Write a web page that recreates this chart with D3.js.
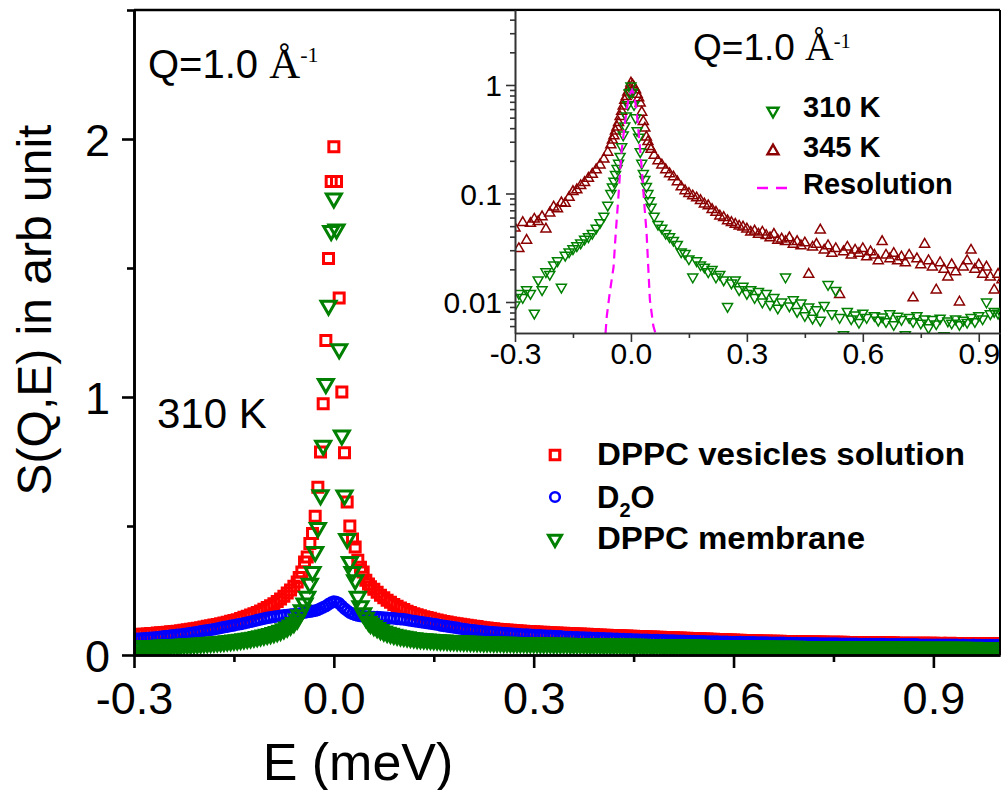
<!DOCTYPE html>
<html><head><meta charset="utf-8">
<script src="https://cdn.jsdelivr.net/npm/d3@7"></script>
<style>
body{margin:0;background:#fff}
svg{display:block}
text{font-family:"Liberation Sans",Arial,sans-serif;fill:#000}
</style>
</head><body>
<svg id="chart" width="1002" height="790"></svg>
<script>
// ---------------- DATA ----------------
// energy grid of the main panel (meV): 0.005 steps in the tails, 0.004 steps around the elastic peak
const energyMain = [
  ...d3.range(-300, -50, 5).map(i => i / 1000),
  ...d3.range(-13, 14).map(k => +(k * 0.004).toFixed(3)),
  ...d3.range(55, 1001, 5).map(i => i / 1000)
];
// energy grid of the inset (meV)
const energyInset = [
  ...d3.range(-30, -5).map(i => i / 100),
  ...d3.range(-13, 14).map(k => +(k * 0.004).toFixed(3)),
  ...d3.range(6, 101).map(i => i / 100)
];

// main panel, 310 K
const vesicles = [
  0.077,0.079,0.080,0.080,0.081,0.083,0.083,0.085,0.086,0.087,
  0.088,0.090,0.091,0.092,0.094,0.096,0.098,0.100,0.102,0.104,
  0.106,0.109,0.111,0.113,0.116,0.118,0.121,0.124,0.127,0.131,
  0.134,0.137,0.141,0.146,0.150,0.155,0.160,0.165,0.171,0.177,
  0.184,0.191,0.199,0.207,0.217,0.228,0.240,0.252,0.266,0.283,
  0.300,0.322,0.360,0.380,0.432,0.471,0.538,0.650,0.787,0.974,1.219,1.537,1.835,1.970,1.835,1.384,1.019,0.784,0.593,0.500,0.450,0.419,0.367,0.340,0.322,0.290,0.275,
  0.265,0.255,0.243,0.232,0.222,0.212,0.204,0.196,0.189,0.182,
  0.176,0.170,0.165,0.160,0.156,0.152,0.148,0.145,0.142,0.139,
  0.136,0.133,0.130,0.128,0.125,0.123,0.121,0.119,0.117,0.115,
  0.113,0.111,0.110,0.108,0.106,0.105,0.103,0.102,0.100,0.099,
  0.098,0.097,0.096,0.095,0.094,0.093,0.092,0.091,0.091,0.090,
  0.089,0.088,0.088,0.087,0.086,0.085,0.085,0.084,0.084,0.083,
  0.082,0.082,0.081,0.081,0.080,0.080,0.079,0.079,0.078,0.078,
  0.077,0.077,0.076,0.076,0.075,0.075,0.074,0.074,0.073,0.073,
  0.072,0.072,0.071,0.071,0.070,0.070,0.069,0.069,0.068,0.068,
  0.067,0.067,0.066,0.066,0.065,0.065,0.064,0.064,0.063,0.063,
  0.062,0.062,0.061,0.061,0.060,0.060,0.059,0.059,0.058,0.058,
  0.057,0.057,0.056,0.056,0.055,0.055,0.055,0.054,0.054,0.054,
  0.053,0.053,0.053,0.053,0.052,0.052,0.052,0.052,0.051,0.051,
  0.051,0.051,0.050,0.050,0.050,0.050,0.050,0.049,0.049,0.049,
  0.049,0.049,0.049,0.048,0.048,0.048,0.048,0.048,0.048,0.048,
  0.047,0.047,0.047,0.047,0.047,0.047,0.047,0.047,0.046,0.046,
  0.046,0.046,0.046,0.046,0.046,0.046,0.046,0.046,0.046,0.046,
  0.045,0.046,0.045,0.045,0.046,0.045,0.045,0.045,0.045,0.045,
  0.045,0.045,0.044,0.045,0.045,0.044,0.045,0.044,0.045,0.044
];
const d2o = [
  0.062,0.063,0.064,0.065,0.066,0.067,0.068,0.069,0.071,0.072,
  0.073,0.075,0.076,0.078,0.079,0.081,0.083,0.085,0.087,0.089,
  0.092,0.094,0.096,0.098,0.100,0.103,0.105,0.108,0.110,0.113,
  0.115,0.118,0.120,0.123,0.126,0.129,0.132,0.135,0.138,0.141,
  0.144,0.146,0.148,0.150,0.152,0.154,0.155,0.157,0.158,0.159,
  0.160,0.163,0.165,0.167,0.168,0.170,0.172,0.175,0.180,0.185,0.190,0.197,0.203,0.207,0.205,0.200,0.190,0.180,0.172,0.165,0.160,0.156,0.153,0.151,0.150,0.149,0.148,
  0.148,0.147,0.147,0.146,0.145,0.144,0.143,0.142,0.140,0.139,
  0.138,0.136,0.134,0.132,0.130,0.128,0.126,0.124,0.122,0.120,
  0.118,0.115,0.113,0.111,0.109,0.107,0.105,0.103,0.101,0.099,
  0.097,0.096,0.094,0.093,0.091,0.090,0.089,0.088,0.087,0.086,
  0.085,0.084,0.083,0.082,0.081,0.080,0.079,0.079,0.078,0.077,
  0.076,0.076,0.075,0.074,0.074,0.073,0.072,0.072,0.071,0.070,
  0.070,0.069,0.069,0.068,0.068,0.067,0.067,0.066,0.066,0.065,
  0.065,0.064,0.064,0.063,0.063,0.062,0.062,0.061,0.061,0.060,
  0.060,0.059,0.059,0.059,0.058,0.058,0.058,0.057,0.057,0.056,
  0.056,0.056,0.055,0.055,0.055,0.054,0.054,0.054,0.053,0.053,
  0.053,0.052,0.052,0.052,0.052,0.051,0.051,0.051,0.050,0.050,
  0.050,0.050,0.049,0.049,0.049,0.049,0.048,0.048,0.048,0.048,
  0.047,0.047,0.047,0.047,0.047,0.046,0.046,0.046,0.046,0.045,
  0.045,0.045,0.045,0.045,0.045,0.044,0.044,0.044,0.044,0.044,
  0.044,0.043,0.043,0.043,0.043,0.043,0.043,0.042,0.042,0.042,
  0.042,0.042,0.042,0.042,0.042,0.041,0.041,0.041,0.041,0.041,
  0.041,0.041,0.041,0.041,0.041,0.040,0.040,0.040,0.040,0.040,
  0.040,0.040,0.040,0.040,0.040,0.040,0.040,0.039,0.040,0.039,
  0.039,0.040,0.039,0.039,0.039,0.039,0.039,0.039,0.039,0.039
];
const membrane = [
  0.034,0.034,0.035,0.035,0.035,0.036,0.036,0.036,0.037,0.037,
  0.038,0.038,0.039,0.039,0.040,0.041,0.042,0.042,0.043,0.044,
  0.045,0.046,0.047,0.048,0.049,0.050,0.051,0.052,0.054,0.055,
  0.057,0.058,0.060,0.062,0.064,0.066,0.068,0.070,0.073,0.076,
  0.079,0.082,0.086,0.090,0.095,0.100,0.107,0.115,0.125,0.138,
  0.155,0.174,0.200,0.226,0.277,0.322,0.400,0.493,0.620,0.812,1.051,1.354,1.644,1.770,1.650,1.186,0.851,0.619,0.450,0.361,0.322,0.290,0.226,0.190,0.162,0.145,0.130,
  0.122,0.113,0.105,0.098,0.092,0.087,0.083,0.079,0.076,0.073,
  0.071,0.069,0.067,0.066,0.064,0.063,0.062,0.061,0.060,0.059,
  0.058,0.057,0.057,0.056,0.055,0.055,0.054,0.054,0.053,0.053,
  0.052,0.052,0.051,0.051,0.050,0.050,0.050,0.049,0.049,0.049,
  0.048,0.048,0.048,0.047,0.047,0.047,0.047,0.046,0.046,0.046,
  0.046,0.045,0.045,0.045,0.045,0.044,0.044,0.044,0.044,0.044,
  0.043,0.043,0.043,0.043,0.043,0.042,0.042,0.042,0.042,0.042,
  0.041,0.041,0.041,0.041,0.041,0.041,0.040,0.040,0.040,0.040,
  0.040,0.040,0.039,0.039,0.039,0.039,0.039,0.039,0.038,0.038,
  0.038,0.038,0.038,0.038,0.037,0.037,0.037,0.037,0.037,0.037,
  0.036,0.036,0.036,0.036,0.036,0.036,0.035,0.035,0.035,0.035,
  0.035,0.035,0.035,0.034,0.034,0.034,0.034,0.034,0.034,0.034,
  0.034,0.033,0.033,0.033,0.033,0.033,0.033,0.033,0.033,0.032,
  0.032,0.032,0.032,0.032,0.032,0.032,0.032,0.032,0.032,0.031,
  0.031,0.031,0.031,0.031,0.031,0.031,0.031,0.031,0.031,0.031,
  0.030,0.030,0.030,0.030,0.030,0.030,0.030,0.030,0.030,0.030,
  0.030,0.030,0.030,0.029,0.029,0.029,0.029,0.029,0.029,0.029,
  0.029,0.029,0.029,0.029,0.029,0.029,0.029,0.029,0.029,0.028,
  0.028,0.029,0.028,0.028,0.028,0.028,0.028,0.028,0.028,0.028
];

// inset (log scale), normalised spectra of the membrane
const inset310 = [
  0.0094,0.012,0.011,0.013,0.012,0.0079,0.016,0.013,0.019,0.018,0.022,0.024,0.0137,0.027,0.029,0.031,0.033,0.035,0.038,0.040,0.043,0.048,0.054,0.062,0.078,
  0.100,0.115,0.130,0.150,0.170,0.190,0.220,0.270,0.346,0.420,0.520,0.660,0.850,0.980,0.860,0.660,0.500,0.380,0.330,0.243,0.190,0.153,0.135,0.116,0.100,0.086,0.075,
  0.062,0.052,0.048,0.043,0.040,0.037,0.034,0.029,0.028,0.025,
  0.017,0.024,0.022,0.021,0.019,0.020,0.017,0.018,0.016,0.0091,
  0.015,0.016,0.013,0.014,0.012,0.013,0.011,0.0125,0.010,0.012,
  0.0095,0.011,0.0088,0.010,0.017,0.0092,0.0105,0.0082,0.0098,0.0075,
  0.0090,0.0071,0.0085,0.0068,0.0093,0.0145,0.0078,0.0128,0.0072,0.0050,
  0.0082,0.0070,0.0076,0.0065,0.0079,0.0072,0.0048,0.0075,0.0068,0.0073,
  0.0066,0.0078,0.0062,0.0074,0.0069,0.0050,0.0072,0.0066,0.0075,0.0064,
  0.0070,0.0058,0.0069,0.0063,0.0071,0.0049,0.0067,0.0064,0.0070,0.0062,
  0.0068,0.0065,0.0072,0.0066,0.0075,0.0070,0.0100,0.0078,0.0082,0.0079,
  0.0077,0.0080,0.0076,0.0078,0.0078
];
const inset345 = [
  0.048,0.031,0.054,0.037,0.053,0.058,0.055,0.061,0.047,0.066,0.075,0.072,0.082,0.081,0.092,0.104,0.108,0.118,0.126,0.138,0.150,0.165,0.183,0.207,0.240,
  0.280,0.310,0.340,0.375,0.410,0.450,0.510,0.570,0.640,0.720,0.780,0.860,0.950,1.040,1.000,0.950,0.900,0.820,0.760,0.680,0.560,0.460,0.400,0.330,0.300,0.270,0.255,
  0.225,0.200,0.183,0.165,0.152,0.142,0.128,0.115,0.106,0.100,
  0.095,0.091,0.086,0.080,0.077,0.071,0.067,0.062,0.060,0.056,
  0.054,0.052,0.050,0.049,0.047,0.044,0.045,0.042,0.044,0.041,
  0.039,0.042,0.037,0.038,0.036,0.039,0.034,0.036,0.033,0.035,
  0.018,0.032,0.034,0.046,0.030,0.033,0.028,0.031,0.0117,0.029,
  0.032,0.027,0.030,0.028,0.031,0.026,0.029,0.027,0.024,0.036,
  0.027,0.025,0.028,0.024,0.026,0.023,0.027,0.0109,0.025,0.022,
  0.034,0.024,0.021,0.0129,0.023,0.020,0.017,0.022,0.019,0.010,
  0.021,0.024,0.030,0.020,0.022,0.018,0.021,0.017,0.0129,0.018,
  0.016,0.019,0.017,0.018,0.017
];
// instrument resolution (dashed)
const resolutionE = [-0.075,-0.067,-0.0625,-0.055,-0.045,-0.039,-0.033,-0.028,-0.024,-0.018,-0.011,-0.005,0.0,0.003,0.008,0.0145,0.021,0.0276,0.034,0.0405,0.049,0.058,0.066,0.075];
const resolution  = [0.002,0.0045,0.0074,0.012,0.021,0.045,0.087,0.16,0.25,0.38,0.59,0.78,0.86,0.90,0.82,0.59,0.33,0.177,0.085,0.043,0.0105,0.006,0.0048,0.004];

const mainXTicks = [-0.3, 0.0, 0.3, 0.6, 0.9];
const mainXMinor = [-0.15, 0.15, 0.45, 0.75];
const mainYTicks = [0, 1, 2];
const mainYMinor = [0.5, 1.5, 2.5];
const insetXTicks = [-0.3, 0.0, 0.3, 0.6, 0.9];
const insetXMinor = [-0.15, 0.15, 0.45, 0.75];
const insetYTicks = [0.01, 0.1, 1];
const insetYMinor = [0.006,0.007,0.008,0.009,0.02,0.03,0.04,0.05,0.06,0.07,0.08,0.09,0.2,0.3,0.4,0.5,0.6,0.7,0.8,0.9,2,3,4];

const mainLegend = ["DPPC vesicles solution", "D2O", "DPPC membrane"];
const insetLegend = ["310 K", "345 K", "Resolution"];

// ---------------- DRAW ----------------
const svg = d3.select("#chart");
const M = {l:134, r:1000, t:10, b:655};
const I = {l:515, r:1000, t:10, b:333};

const x = d3.scaleLinear().domain([-0.3, 1.0]).range([M.l, M.r]);
const y = d3.scaleLinear().domain([0, 2.5]).range([M.b, M.t]);
const xi = d3.scaleLinear().domain([-0.3, 0.955]).range([I.l, I.r]);
const yi = d3.scaleLog().domain([0.00518, 4.91]).range([I.b, I.t]);

const sqPath = s => `M${-s/2},${-s/2}h${s}v${s}h${-s}Z`;
const triDown = s => { const h = s*Math.sqrt(3)/2; return `M${-s/2},${-h/3}L${s/2},${-h/3}L0,${2*h/3}Z`; };
const triUp = s => { const h = s*Math.sqrt(3)/2; return `M${-s/2},${h/3}L${s/2},${h/3}L0,${-2*h/3}Z`; };

const defs = svg.append("defs");
defs.append("clipPath").attr("id","clipMain").append("rect")
  .attr("x", M.l).attr("y", M.t).attr("width", M.r - M.l).attr("height", M.b - M.t);
defs.append("clipPath").attr("id","clipInset").append("rect")
  .attr("x", I.l).attr("y", I.t).attr("width", I.r - I.l).attr("height", I.b - I.t);

// main series
const gMain = svg.append("g").attr("clip-path","url(#clipMain)");
const zipMain = vals => energyMain.map((e,i) => [e, vals[i]]);
const zipInset = vals => energyInset.map((e,i) => [e, vals[i]]);

gMain.append("g").selectAll("path").data(zipMain(vesicles)).join("path")
  .attr("d", sqPath(10)).attr("transform", d => `translate(${x(d[0])},${y(d[1])})`)
  .attr("fill","none").attr("stroke","#ff0000").attr("stroke-width",3);
gMain.append("g").selectAll("circle").data(zipMain(d2o)).join("circle")
  .attr("cx", d => x(d[0])).attr("cy", d => y(d[1])).attr("r", 5)
  .attr("fill","none").attr("stroke","#0000ff").attr("stroke-width",2.6);
gMain.append("g").selectAll("path").data(zipMain(membrane)).join("path")
  .attr("d", triDown(15)).attr("transform", d => `translate(${x(d[0])},${y(d[1])})`)
  .attr("fill","none").attr("stroke","#008000").attr("stroke-width",3);

// main axes
const axX = svg.append("g").attr("transform", `translate(0,${M.b})`)
  .call(d3.axisBottom(x).tickValues(mainXTicks).tickFormat(d => d.toFixed(1)).tickSize(13).tickSizeOuter(0));
svg.append("g").attr("transform", `translate(0,${M.b})`)
  .call(d3.axisBottom(x).tickValues(mainXMinor).tickFormat("").tickSize(7).tickSizeOuter(0));
const axY = svg.append("g").attr("transform", `translate(${M.l},0)`)
  .call(d3.axisLeft(y).tickValues(mainYTicks).tickFormat(d => d).tickSize(12).tickSizeOuter(0));
svg.append("g").attr("transform", `translate(${M.l},0)`)
  .call(d3.axisLeft(y).tickValues(mainYMinor).tickFormat("").tickSize(7).tickSizeOuter(0));
svg.selectAll(".domain, .tick line").attr("stroke","#000").attr("stroke-width",2.6);
axX.selectAll("text").attr("y", 59).attr("dy", 0).style("font-size","45px").attr("fill","#000");
axY.selectAll("text").attr("x", -24).attr("dy","0.36em").style("font-size","45px").attr("fill","#000");
// frame top/right
svg.append("line").attr("x1", M.l).attr("x2", M.r).attr("y1", M.t).attr("y2", M.t).attr("stroke","#000").attr("stroke-width",2.4);
svg.append("line").attr("x1", M.r).attr("x2", M.r).attr("y1", M.t).attr("y2", M.b).attr("stroke","#000").attr("stroke-width",2);

// axis titles
svg.append("text").attr("x", 358).attr("y", 780).attr("text-anchor","middle").style("font-size","52px").text("E (meV)");
svg.append("text").attr("transform","translate(51,310) rotate(-90)").attr("text-anchor","middle").style("font-size","48px").text("S(Q,E) in arb unit");

// annotations
function qLabel(xp, yp, fs, sup) {
  const t = svg.append("text").attr("x", xp).attr("y", yp).style("font-size", fs + "px");
  t.append("tspan").text("Q=1.0 ");
  t.append("tspan").style("font-family","'Liberation Serif','Times New Roman',serif").style("font-size",(fs*1.07)+"px").text("Å");
  t.append("tspan").attr("dy", -sup).style("font-family","'Liberation Serif','Times New Roman',serif").style("font-size",(fs*0.55)+"px").text("-1");
}
qLabel(148, 78, 40, 16);
svg.append("text").attr("x", 157).attr("y", 428).style("font-size","42px").text("310 K");

// main legend
const lg = svg.append("g");
const lgX = 555, lgTX = 597, lgRows = [455, 497, 539], lgBase = [465, 508, 549];
lg.append("path").attr("d", sqPath(9.5)).attr("transform",`translate(${lgX},${lgRows[0]})`)
  .attr("fill","none").attr("stroke","#ff0000").attr("stroke-width",3.2);
lg.append("circle").attr("cx", lgX).attr("cy", lgRows[1]).attr("r", 4.8)
  .attr("fill","none").attr("stroke","#0000ff").attr("stroke-width",2.6);
lg.append("path").attr("d", triDown(13)).attr("transform",`translate(${lgX},${lgRows[2]})`)
  .attr("fill","none").attr("stroke","#008000").attr("stroke-width",3);
lg.append("text").attr("x", lgTX).attr("y", lgBase[0]).style("font-size","31px").style("font-weight","bold")
  .attr("textLength", 368).attr("lengthAdjust","spacingAndGlyphs").text(mainLegend[0]);
const d2oT = lg.append("text").attr("x", lgTX).attr("y", lgBase[1]).style("font-size","31px").style("font-weight","bold");
d2oT.append("tspan").text("D");
d2oT.append("tspan").attr("dy", 9).style("font-size","20px").text("2");
d2oT.append("tspan").attr("dy", -9).text("O");
lg.append("text").attr("x", lgTX).attr("y", lgBase[2]).style("font-size","31px").style("font-weight","bold")
  .attr("textLength", 268).attr("lengthAdjust","spacingAndGlyphs").text(mainLegend[2]);

// ---------------- INSET ----------------
svg.append("rect").attr("x", I.l).attr("y", I.t + 1.2).attr("width", I.r - I.l - 1).attr("height", I.b - I.t - 1.2).attr("fill","#fff");
const gIn = svg.append("g").attr("clip-path","url(#clipInset)");
gIn.append("g").selectAll("path").data(zipInset(inset345)).join("path")
  .attr("d", triUp(10)).attr("transform", d => `translate(${xi(d[0])},${yi(d[1])})`)
  .attr("fill","none").attr("stroke","#8b0000").attr("stroke-width",1.5);
gIn.append("g").selectAll("path").data(zipInset(inset310)).join("path")
  .attr("d", triDown(10)).attr("transform", d => `translate(${xi(d[0])},${yi(d[1])})`)
  .attr("fill","none").attr("stroke","#008000").attr("stroke-width",1.5);
gIn.append("path").datum(resolutionE.map((e,i)=>[e, resolution[i]]))
  .attr("d", d3.line().x(d => xi(d[0])).y(d => yi(d[1])))
  .attr("fill","none").attr("stroke","#ff00ff").attr("stroke-width",2.2).attr("stroke-dasharray","9,6");

const iax = svg.append("g").attr("transform",`translate(0,${I.b})`)
  .call(d3.axisBottom(xi).tickValues(insetXTicks).tickFormat(d => d.toFixed(1)).tickSize(9).tickSizeOuter(0));
const iaxm = svg.append("g").attr("transform",`translate(0,${I.b})`)
  .call(d3.axisBottom(xi).tickValues(insetXMinor).tickFormat("").tickSize(5).tickSizeOuter(0));
const iay = svg.append("g").attr("transform",`translate(${I.l},0)`)
  .call(d3.axisLeft(yi).tickValues(insetYTicks).tickFormat(d => String(d)).tickSize(9).tickSizeOuter(0));
const iaym = svg.append("g").attr("transform",`translate(${I.l},0)`)
  .call(d3.axisLeft(yi).tickValues(insetYMinor).tickFormat("").tickSize(5).tickSizeOuter(0));
[iax, iaxm, iay, iaym].forEach(g => g.selectAll(".domain, .tick line").attr("stroke","#333").attr("stroke-width",1.6));
iax.selectAll("text").attr("y", 31).attr("dy", 0).style("font-size","30px").attr("fill","#000");
iay.selectAll("text").attr("x", -13).attr("dy","0.36em").style("font-size","30px").attr("fill","#000");

qLabel(693, 60, 37, 12);

// inset legend
const il = svg.append("g");
const ilX = 773, ilTX = 803;
il.append("path").attr("d", triDown(11)).attr("transform",`translate(${ilX},111)`)
  .attr("fill","none").attr("stroke","#008000").attr("stroke-width",2.4);
il.append("path").attr("d", triUp(11)).attr("transform",`translate(${ilX},151)`)
  .attr("fill","none").attr("stroke","#8b0000").attr("stroke-width",2.4);
il.append("line").attr("x1", 757).attr("x2", 794).attr("y1", 188).attr("y2", 188)
  .attr("stroke","#ff00ff").attr("stroke-width",2.4).attr("stroke-dasharray","11,8");
[[117, insetLegend[0]], [157, insetLegend[1]], [194, insetLegend[2]]].forEach(([yy, t]) => {
  il.append("text").attr("x", ilTX).attr("y", yy).style("font-size","29px").style("font-weight","bold").text(t);
});
</script>
</body></html>
